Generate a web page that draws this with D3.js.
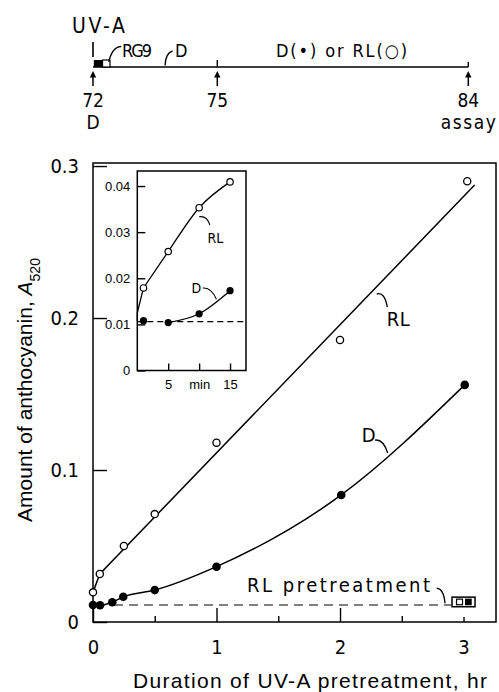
<!DOCTYPE html>
<html>
<head>
<meta charset="utf-8">
<title>Anthocyanin after UV-A pretreatment</title>
<script src="https://cdn.jsdelivr.net/npm/d3@7"></script>
<style>
	body { margin: 0; background: #fff; }
	svg { display: block; }
	.tech { font-family: 'Liberation Sans Narrow', 'DejaVu Sans Condensed', sans-serif; fill: #000; }
	.axis path, .axis line { stroke: #000; stroke-width: 1.4; }
	.axis text { font-family: 'Liberation Sans Narrow', 'DejaVu Sans Condensed', sans-serif; font-size: 20px; fill: #000; }
	.inset-axis text { font-family: 'Liberation Sans', Arial, sans-serif; font-size: 13px; }
	.title { font-family: 'Liberation Sans', Arial, sans-serif; font-size: 21px; fill: #000; }
</style>
</head>
<body>
<script>
	const width = 499, height = 692;

	// main plot, hours of UV-A and A520
	const rlHours = [0, 0.055, 0.25, 0.5, 1, 2, 3.03];
	const rlValues = [0.0195, 0.0316, 0.050, 0.071, 0.118, 0.1855, 0.290];
	const dHours = [0, 0.057, 0.156, 0.245, 0.5, 1, 2.01, 3.01];
	const dValues = [0.0112, 0.011, 0.013, 0.0166, 0.021, 0.0364, 0.0836, 0.156];
	const rlFitHours = [0, 0.055, 3.09];
	const rlFitValues = [0.0195, 0.0316, 0.2875];
	const rlPretreatment = 0.0112;
	const xMajorTicks = [0, 1, 2, 3];
	const xTickLabels = ["0", "1", "2", "3"];
	const xMinorTicks = [0.5, 1.5, 2.5];
	const yTicks = [0, 0.1, 0.2, 0.3];
	const yTickLabels = ["0", "0.1", "0.2", "0.3"];

	// inset, minutes of UV-A
	const insetMinutes = [1, 5, 10, 15];
	const insetRL = [0.0179, 0.0258, 0.0353, 0.0409];
	const insetD = [0.0108, 0.0104, 0.0123, 0.0173];
	const insetRLRiseMinutes = [0, 0, 1];
	const insetRLRiseValues = [0.0108, 0.0125, 0.0179];
	const insetDFitMinutes = [5, 10, 15];
	const insetDFitValues = [0.0104, 0.0123, 0.0173];
	const insetDark = 0.0106;
	const insetXTicks = [5, 10, 15];
	const insetXTickLabels = ["5", "min", "15"];
	const insetYTicks = [0, 0.01, 0.02, 0.03, 0.04];
	const insetYTickLabels = ["0", "0.01", "0.02", "0.03", "0.04"];

	// time course of the experiment, hours after sowing
	const timelineHours = [72, 75, 84];
	const timelineLabels = ["72", "75", "84"];
	const timelineSubLabels = ["D", "", "assay"];

	const svg = d3.select("body").append("svg")
		.attr("width", width)
		.attr("height", height);

	const x = d3.scaleLinear().domain([0, 3.263]).range([93, 496]);
	const y = d3.scaleLinear().domain([0, 0.302]).range([622, 163]);

	function leader(sx, sy, p) {
		const path = d3.path();
		path.moveTo(sx(p[0][0]), sy(p[0][1]));
		path.quadraticCurveTo(sx(p[1][0]), sy(p[1][1]), sx(p[2][0]), sy(p[2][1]));
		return path.toString();
	}

	// ---- timeline on top
	const t = d3.scaleLinear().domain(timelineHours).range([93, 217.3, 468.3]);
	const lineY = 67;
	const tl = svg.append("g");

	tl.append("line")
		.attr("x1", t(72)).attr("x2", t(84))
		.attr("y1", lineY).attr("y2", lineY)
		.attr("stroke", "#000").attr("stroke-width", 1.6);
	tl.append("line")
		.attr("x1", t(72)).attr("x2", t(72))
		.attr("y1", 42).attr("y2", 57)
		.attr("stroke", "#000").attr("stroke-width", 1.6);
	tl.append("rect")
		.attr("x", t(72.02)).attr("width", t(72.23) - t(72.02))
		.attr("y", 60).attr("height", lineY - 60)
		.attr("fill", "#000");
	tl.append("rect")
		.attr("x", t(72.23)).attr("width", t(72.41) - t(72.23))
		.attr("y", 60).attr("height", lineY - 60)
		.attr("fill", "#fff").attr("stroke", "#000").attr("stroke-width", 1.2);
	tl.append("line")
		.attr("x1", t(75)).attr("x2", t(75)).attr("y1", 60).attr("y2", lineY)
		.attr("stroke", "#000").attr("stroke-width", 1.4);
	tl.append("line")
		.attr("x1", t(84)).attr("x2", t(84)).attr("y1", 62).attr("y2", lineY)
		.attr("stroke", "#000").attr("stroke-width", 1.4);

	tl.selectAll(".arrow")
		.data(timelineHours)
		.enter()
		.append("g")
		.attr("class", "arrow")
		.each(function(d){
			const g = d3.select(this);
			g.append("line")
				.attr("x1", t(d)).attr("x2", t(d))
				.attr("y1", 75).attr("y2", 86)
				.attr("stroke", "#000").attr("stroke-width", 1.5);
			g.append("path")
				.attr("d", "M" + t(d) + ",71 l-3.2,6.5 l6.4,0 z")
				.attr("fill", "#000");
		});

	tl.selectAll(".tlabel")
		.data(timelineHours)
		.enter()
		.append("text")
		.attr("class", "tech")
		.attr("x", function(d){ return t(d); })
		.attr("y", 107)
		.attr("text-anchor", "middle")
		.attr("font-size", "19px")
		.text(function(d, i){ return timelineLabels[i]; });

	tl.selectAll(".tsub")
		.data(timelineHours)
		.enter()
		.append("text")
		.attr("class", "tech")
		.attr("x", function(d){ return t(d); })
		.attr("y", 129)
		.attr("text-anchor", "middle")
		.attr("font-size", "19px")
		.text(function(d, i){ return timelineSubLabels[i]; })
		.each(function(d, i){
			if (timelineSubLabels[i].length > 1) {
				d3.select(this).attr("textLength", 55).attr("lengthAdjust", "spacing");
			}
		});

	tl.append("text").attr("class", "tech")
		.attr("x", 72).attr("y", 33)
		.attr("font-size", "21px")
		.attr("textLength", 53).attr("lengthAdjust", "spacing")
		.text("UV-A");
	tl.append("path")
		.attr("d", "M" + t(72.38) + ",62 Q" + t(72.46) + ",47 " + t(72.68) + ",46.5")
		.attr("fill", "none").attr("stroke", "#000").attr("stroke-width", 1.3);
	tl.append("text").attr("class", "tech")
		.attr("x", 122).attr("y", 57)
		.attr("font-size", "18px")
		.attr("textLength", 30).attr("lengthAdjust", "spacing")
		.text("RG9");
	tl.append("path")
		.attr("d", "M" + t(73.74) + ",65.5 Q" + t(73.75) + ",53 " + t(73.92) + ",51")
		.attr("fill", "none").attr("stroke", "#000").attr("stroke-width", 1.3);
	tl.append("text").attr("class", "tech")
		.attr("x", 175).attr("y", 57)
		.attr("font-size", "18px")
		.text("D");
	tl.append("text").attr("class", "tech")
		.attr("x", 276).attr("y", 57)
		.attr("font-size", "18px")
		.attr("textLength", 131).attr("lengthAdjust", "spacing")
		.text("D(\u2022) or RL(\u25CB)");

	// ---- main plot
	svg.append("rect")
		.attr("x", x(0)).attr("y", y(0.302))
		.attr("width", x(3.263) - x(0)).attr("height", y(0) - y(0.302))
		.attr("fill", "none").attr("stroke", "#000").attr("stroke-width", 1.5);

	const xAxis = svg.append("g")
		.attr("class", "axis")
		.attr("transform", "translate(0," + y(0) + ")")
		.call(d3.axisBottom(x)
			.tickValues(xMajorTicks)
			.tickFormat(function(d, i){ return xTickLabels[i]; })
			.tickSizeInner(-14).tickSizeOuter(0).tickPadding(18));
	xAxis.select(".domain").remove();
	xAxis.selectAll(".tick line").filter(function(d){ return d === 3; }).attr("y2", -5);

	const xMinor = svg.append("g")
		.attr("class", "axis")
		.attr("transform", "translate(0," + y(0) + ")")
		.call(d3.axisBottom(x).tickValues(xMinorTicks).tickFormat("").tickSizeInner(-6).tickSizeOuter(0));
	xMinor.select(".domain").remove();

	const yAxis = svg.append("g")
		.attr("class", "axis")
		.attr("transform", "translate(" + x(0) + ",0)")
		.call(d3.axisLeft(y)
			.tickValues(yTicks)
			.tickFormat(function(d, i){ return yTickLabels[i]; })
			.tickSizeInner(-14).tickSizeOuter(0).tickPadding(14));
	yAxis.select(".domain").remove();

	// RL pretreatment level
	svg.append("line")
		.attr("x1", x(0.17)).attr("x2", x(2.9))
		.attr("y1", y(rlPretreatment)).attr("y2", y(rlPretreatment))
		.attr("stroke", "#000").attr("stroke-width", 1.2)
		.attr("stroke-dasharray", "9,6");

	const line = d3.line()
		.x(function(d){ return x(d[0]); })
		.y(function(d){ return y(d[1]); });

	svg.append("path")
		.datum(d3.zip(rlFitHours, rlFitValues))
		.attr("d", line)
		.attr("fill", "none").attr("stroke", "#000").attr("stroke-width", 1.5);

	svg.append("path")
		.datum(d3.zip(dHours, dValues))
		.attr("d", line.curve(d3.curveMonotoneX))
		.attr("fill", "none").attr("stroke", "#000").attr("stroke-width", 1.5);
	line.curve(d3.curveLinear);

	svg.selectAll(".rl")
		.data(d3.zip(rlHours, rlValues))
		.enter()
		.append("circle")
		.attr("class", "rl")
		.attr("cx", function(d){ return x(d[0]); })
		.attr("cy", function(d){ return y(d[1]); })
		.attr("r", 3.6)
		.attr("fill", "#fff").attr("stroke", "#000").attr("stroke-width", 1.3);

	svg.selectAll(".d")
		.data(d3.zip(dHours, dValues))
		.enter()
		.append("circle")
		.attr("class", "d")
		.attr("cx", function(d){ return x(d[0]); })
		.attr("cy", function(d){ return y(d[1]); })
		.attr("r", 4.3)
		.attr("fill", "#000");

	// box at 3 hr: D and RL after RL pretreatment
	const bx = x(3), by = y(0.0132);
	svg.append("rect")
		.attr("x", bx - 11.5).attr("y", by - 4.8).attr("width", 23).attr("height", 9.6)
		.attr("fill", "#fff").attr("stroke", "#000").attr("stroke-width", 1.5);
	svg.append("rect")
		.attr("x", bx - 7).attr("y", by - 2.8).attr("width", 6).attr("height", 5.6)
		.attr("fill", "#fff").attr("stroke", "#000").attr("stroke-width", 1.2);
	svg.append("rect")
		.attr("x", bx + 1.5).attr("y", by - 3.3).attr("width", 6.7).attr("height", 6.6)
		.attr("fill", "#000");

	// labels on the curves
	svg.append("text").attr("class", "tech")
		.attr("x", x(2.378)).attr("y", y(0.1947))
		.attr("font-size", "20px")
		.attr("textLength", 23).attr("lengthAdjust", "spacing")
		.text("RL");
	svg.append("path")
		.attr("d", leader(x, y, [[2.297, 0.2158], [2.36, 0.2175], [2.383, 0.2072]]))
		.attr("fill", "none").attr("stroke", "#000").attr("stroke-width", 1.3);

	svg.append("text").attr("class", "tech")
		.attr("x", x(2.176)).attr("y", y(0.1186))
		.attr("font-size", "20px")
		.text("D");
	svg.append("path")
		.attr("d", leader(x, y, [[2.283, 0.1197], [2.35, 0.1205], [2.386, 0.1112]]))
		.attr("fill", "none").attr("stroke", "#000").attr("stroke-width", 1.3);

	svg.append("text").attr("class", "tech")
		.attr("x", x(1.247)).attr("y", y(0.0197))
		.attr("font-size", "20px")
		.attr("textLength", 183).attr("lengthAdjust", "spacing")
		.text("RL pretreatment");
	svg.append("path")
		.attr("d", leader(x, y, [[2.783, 0.0222], [2.84, 0.0218], [2.85, 0.0123]]))
		.attr("fill", "none").attr("stroke", "#000").attr("stroke-width", 1.3);

	// axis titles
	const yTitle = svg.append("text")
		.attr("class", "title")
		.attr("transform", "translate(32,390) rotate(-90)")
		.attr("text-anchor", "middle");
	yTitle.append("tspan").text("Amount of anthocyanin, ");
	yTitle.append("tspan").attr("font-style", "italic").text("A");
	yTitle.append("tspan").attr("font-size", "14px").attr("baseline-shift", "sub").text("520");

	svg.append("text")
		.attr("class", "title")
		.attr("x", 133).attr("y", 688)
		.attr("textLength", 354).attr("lengthAdjust", "spacing")
		.text("Duration of UV-A pretreatment, hr");

	// ---- inset
	const ix = d3.scaleLinear().domain([0, 17.58]).range([137.3, 246]);
	const iy = d3.scaleLinear().domain([0, 0.04326]).range([370.5, 171]);

	svg.append("rect")
		.attr("x", ix(0)).attr("y", iy(0.04326))
		.attr("width", ix(17.58) - ix(0)).attr("height", iy(0) - iy(0.04326))
		.attr("fill", "#fff").attr("stroke", "#000").attr("stroke-width", 1.5);

	const ixAxis = svg.append("g")
		.attr("class", "axis inset-axis")
		.attr("transform", "translate(0," + iy(0) + ")")
		.call(d3.axisBottom(ix)
			.tickValues(insetXTicks)
			.tickFormat(function(d, i){ return insetXTickLabels[i]; })
			.tickSizeInner(-7).tickSizeOuter(0).tickPadding(9));
	ixAxis.select(".domain").remove();

	const iyAxis = svg.append("g")
		.attr("class", "axis inset-axis")
		.attr("transform", "translate(" + ix(0) + ",0)")
		.call(d3.axisLeft(iy)
			.tickValues(insetYTicks)
			.tickFormat(function(d, i){ return insetYTickLabels[i]; })
			.tickSizeInner(-8).tickSizeOuter(0).tickPadding(7));
	iyAxis.select(".domain").remove();

	svg.append("line")
		.attr("x1", ix(0)).attr("x2", ix(17.58))
		.attr("y1", iy(insetDark)).attr("y2", iy(insetDark))
		.attr("stroke", "#000").attr("stroke-width", 1.1)
		.attr("stroke-dasharray", "6,4");

	const iline = d3.line()
		.x(function(d){ return ix(d[0]); })
		.y(function(d){ return iy(d[1]); })
		.curve(d3.curveLinear);

	svg.append("path")
		.datum(d3.zip(insetRLRiseMinutes, insetRLRiseValues))
		.attr("d", iline)
		.attr("fill", "none").attr("stroke", "#000").attr("stroke-width", 1.3);
	iline.curve(d3.curveMonotoneX);
	svg.append("path")
		.datum(d3.zip(insetMinutes, insetRL))
		.attr("d", iline)
		.attr("fill", "none").attr("stroke", "#000").attr("stroke-width", 1.3);
	svg.append("path")
		.datum(d3.zip(insetDFitMinutes, insetDFitValues))
		.attr("d", iline)
		.attr("fill", "none").attr("stroke", "#000").attr("stroke-width", 1.3);

	svg.selectAll(".irl")
		.data(d3.zip(insetMinutes, insetRL))
		.enter()
		.append("circle")
		.attr("class", "irl")
		.attr("cx", function(d){ return ix(d[0]); })
		.attr("cy", function(d){ return iy(d[1]); })
		.attr("r", 3.2)
		.attr("fill", "#fff").attr("stroke", "#000").attr("stroke-width", 1.2);

	svg.selectAll(".id")
		.data(d3.zip(insetMinutes, insetD))
		.enter()
		.append("circle")
		.attr("class", "id")
		.attr("cx", function(d){ return ix(d[0]); })
		.attr("cy", function(d){ return iy(d[1]); })
		.attr("r", 3.6)
		.attr("fill", "#000");

	svg.append("text").attr("class", "tech")
		.attr("x", ix(11.35)).attr("y", iy(0.0277))
		.attr("font-size", "14px")
		.text("RL");
	svg.append("path")
		.attr("d", leader(ix, iy, [[10.0, 0.03335], [11.3, 0.0336], [11.73, 0.03155]]))
		.attr("fill", "none").attr("stroke", "#000").attr("stroke-width", 1.1);

	svg.append("text").attr("class", "tech")
		.attr("x", ix(8.77)).attr("y", iy(0.01674))
		.attr("font-size", "14px")
		.text("D");
	svg.append("path")
		.attr("d", leader(ix, iy, [[10.6, 0.01789], [11.95, 0.0181], [12.8, 0.01544]]))
		.attr("fill", "none").attr("stroke", "#000").attr("stroke-width", 1.1);
</script>
</body>
</html>
